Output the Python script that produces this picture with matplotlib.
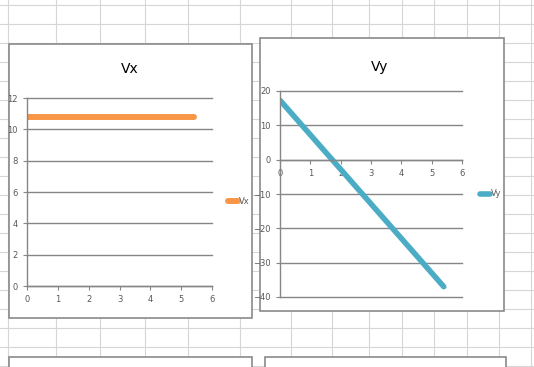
import matplotlib
matplotlib.use("Agg")
import matplotlib.pyplot as plt
from matplotlib.patches import Rectangle

# ---- data ----
t_vx = [0.0, 5.4]
vx = [10.8, 10.8]
t_vy = [0.0, 5.4]
vy = [17.3, -37.0]
x_ticks = [0, 1, 2, 3, 4, 5, 6]
vx_yticks = [0, 2, 4, 6, 8, 10, 12]
vy_yticks = [-40, -30, -20, -10, 0, 10, 20]

W, H = 534, 367
fig = plt.figure(figsize=(W / 100, H / 100), dpi=100)
plt.rcParams['font.family'] = ['DejaVu Sans']

# ---- spreadsheet background ----
bg = fig.add_axes([0, 0, 1, 1])
bg.set_xlim(0, W)
bg.set_ylim(H, 0)
bg.axis('off')
gcol = '#d6d6d6'
for x in [7.5, 56, 100, 145, 188, 240, 291, 332, 369, 402, 434, 467, 499, 531]:
    bg.plot([x, x], [0, H], color=gcol, lw=0.8, zorder=0)
for y in range(5, H, 19):
    bg.plot([0, W], [y, y], color=gcol, lw=0.8, zorder=0)

box_col = '#8a8a8a'
for (x0, y0, x1, y1) in [(9, 44, 252, 318), (260, 38, 504, 311),
                         (9, 357, 252, 380), (265, 357, 506, 380)]:
    bg.add_patch(Rectangle((x0, y0), x1 - x0, y1 - y0, facecolor='white',
                           edgecolor=box_col, lw=1.2, zorder=2))

tick_col = '#595959'
grid_col = '#868686'


def style(ax, yticks, ylim):
    ax.set_facecolor('none')
    ax.set_xlim(0, 6)
    ax.set_ylim(*ylim)
    ax.set_xticks(x_ticks)
    ax.set_yticks(yticks)
    ax.yaxis.grid(True, color=grid_col, lw=1.0)
    ax.set_axisbelow(True)
    for s in ['top', 'right']:
        ax.spines[s].set_visible(False)
    for s in ['left', 'bottom']:
        ax.spines[s].set_color(grid_col)
        ax.spines[s].set_linewidth(1.0)
    ax.tick_params(axis='both', colors=grid_col, labelcolor=tick_col,
                   labelsize=6, length=3, width=0.8, direction='out')
    for gl in ax.get_ygridlines():
        gl.set_clip_on(False)


# ---- Vx chart ----
ax1 = fig.add_axes([27 / W, 1 - 286 / H, 185 / W, 188 / H])
style(ax1, vx_yticks, (0, 12))
ax1.plot(t_vx, vx, color='#F79646', lw=4.3, solid_capstyle='round', label='Vx')
fig.text(130 / W, 1 - 69 / H, 'Vx', ha='center', va='center', fontsize=10)
ax1.legend(loc='center left', bbox_to_anchor=(220 / W, 1 - 201 / H),
           bbox_transform=fig.transFigure, frameon=False, fontsize=6,
           handlelength=1.3, handletextpad=0.1, labelcolor=tick_col)

# ---- Vy chart ----
ax2 = fig.add_axes([280 / W, 1 - 297 / H, 182 / W, 206 / H])
style(ax2, vy_yticks, (-40, 20))
ax2.spines['bottom'].set_position(('data', 0))
ax2.plot(t_vy, vy, color='#4BACC6', lw=4.0, solid_capstyle='round', label='Vy')
fig.text(380 / W, 1 - 67 / H, 'Vy', ha='center', va='center', fontsize=10)
ax2.legend(loc='center left', bbox_to_anchor=(472 / W, 1 - 194 / H),
           bbox_transform=fig.transFigure, frameon=False, fontsize=6,
           handlelength=1.3, handletextpad=0.1, labelcolor=tick_col)

fig.savefig('out.png', dpi=100)
